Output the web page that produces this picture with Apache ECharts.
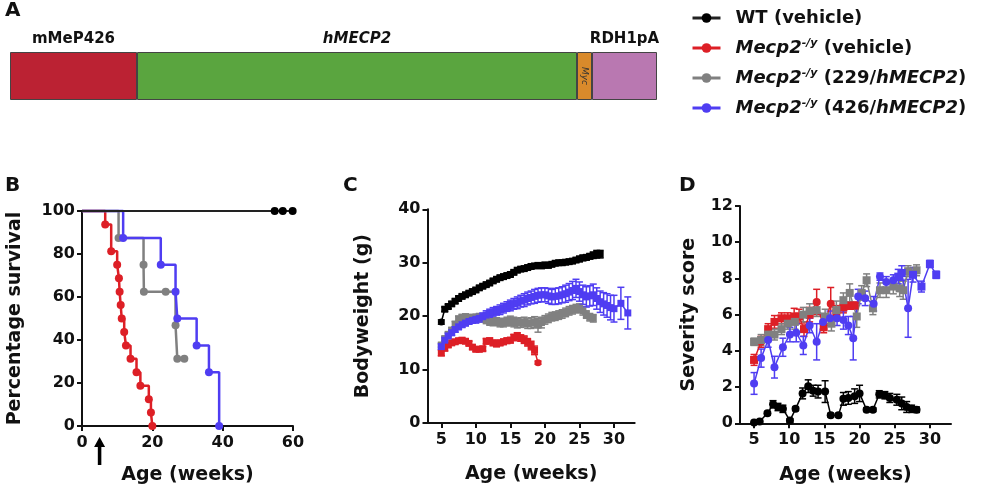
<!DOCTYPE html>
<html><head><meta charset="utf-8">
<script src="https://cdn.jsdelivr.net/npm/echarts@6/dist/echarts.min.js"></script>
<style>html,body{margin:0;padding:0;background:#fff}#c{width:986px;height:496px}</style>
</head><body><div id="c"></div>
<script>
// ---------- Panel A: construct schematic ----------
const constructParts = ['mMeP426', 'hMECP2', 'Myc', 'RDH1pA'];
const constructLengths = [127, 440, 15, 65];

// ---------- Legend names ----------
const groupNames = ['WT (vehicle)', 'Mecp2-/y (vehicle)', 'Mecp2-/y (229/hMECP2)', 'Mecp2-/y (426/hMECP2)'];

// ---------- Panel B: survival ----------
const bTicksX = [0, 20, 40, 60];
const arrowWeek = 5;
const survWT_t = [0, 54.8, 57.1, 59.9];
const survWT_v = [100, 100, 100, 100];
const survRed_t = [0, 6.6, 8.3, 10.0, 10.5, 10.7, 11.0, 11.3, 12.0, 12.5, 13.8, 15.5, 16.6, 19.0, 19.6, 20.0];
const survRed_v = [100, 93.75, 81.25, 75, 68.75, 62.5, 56.25, 50, 43.75, 37.5, 31.25, 25, 18.75, 12.5, 6.25, 0];
const survGray_t = [0, 10.4, 17.5, 17.6, 23.8, 26.6, 27.1, 29.1];
const survGray_v = [100, 87.5, 75, 62.5, 62.5, 46.875, 31.25, 31.25];
const survBlue_t = [0, 11.7, 22.4, 26.6, 27.1, 32.6, 36.1, 39.0];
const survBlue_v = [100, 87.5, 75, 62.5, 50, 37.5, 25, 0];

// ---------- Panel C: bodyweight ----------
const cTicksX = [5, 10, 15, 20, 25, 30];
const cAgeBlack = [5,5.5,6,6.5,7,7.5,8,8.5,9,9.5,10,10.5,11,11.5,12,12.5,13,13.5,14,14.5,15,15.5,16,16.5,17,17.5,18,18.5,19,19.5,20,20.5,21,21.5,22,22.5,23,23.5,24,24.5,25,25.5,26,26.5,27,27.5,28];
const cBlack = [18.9,21.3,21.8,22.3,22.8,23.3,23.7,24.0,24.3,24.6,24.9,25.3,25.6,25.9,26.2,26.6,26.9,27.2,27.4,27.6,27.8,28.2,28.6,28.8,28.9,29.1,29.3,29.4,29.5,29.4,29.6,29.5,29.7,29.9,30.0,30.0,30.1,30.2,30.3,30.5,30.7,30.9,31.0,31.2,31.4,31.6,31.6];
const cBlackErr = [0.4,0.4,0.4,0.4,0.4,0.4,0.4,0.4,0.4,0.4,0.4,0.4,0.4,0.4,0.4,0.4,0.4,0.4,0.4,0.4,0.4,0.4,0.4,0.4,0.4,0.4,0.4,0.4,0.4,0.4,0.4,0.4,0.4,0.4,0.4,0.4,0.4,0.4,0.4,0.4,0.5,0.5,0.5,0.5,0.6,0.7,0.7];
const cAgeRed = [5,5.5,6,6.5,7,7.5,8,8.5,9,9.5,10,10.5,11,11.5,12,12.5,13,13.5,14,14.5,15,15.5,16,16.5,17,17.5,18,18.5,19];
const cRed = [13.1,14.0,14.6,15.0,15.2,15.4,15.5,15.3,14.9,14.2,13.8,13.8,13.9,15.3,15.4,15.0,14.8,15.0,15.2,15.4,15.5,16.0,16.3,15.9,15.6,15.1,14.5,13.6,11.3];
const cRedErr = [0.5,0.5,0.4,0.4,0.4,0.4,0.4,0.4,0.4,0.4,0.4,0.4,0.4,0.5,0.5,0.5,0.5,0.5,0.5,0.5,0.5,0.6,0.6,0.6,0.7,0.7,0.8,0.8,0.3];
const cAgeGray = [5,5.5,6,6.5,7,7.5,8,8.5,9,9.5,10,10.5,11,11.5,12,12.5,13,13.5,14,14.5,15,15.5,16,16.5,17,17.5,18,18.5,19,19.5,20,20.5,21,21.5,22,22.5,23,23.5,24,24.5,25,25.5,26,26.5,27];
const cGray = [14.6,15.8,16.6,17.4,18.5,19.5,19.8,19.9,19.8,19.7,19.7,19.8,19.6,19.3,19.0,18.9,19.0,18.7,18.8,19.0,19.1,18.9,18.7,18.8,18.9,18.6,18.7,18.9,18.3,18.8,19.3,19.6,19.9,20.0,20.2,20.4,20.7,21.0,21.2,21.4,21.5,21.0,20.3,19.8,19.6];
const cGrayErr = [0.4,0.4,0.4,0.4,0.5,0.5,0.5,0.5,0.5,0.5,0.7,0.7,0.7,0.7,0.7,0.7,0.7,0.7,0.8,0.8,0.9,0.9,0.9,0.9,0.9,0.9,1.0,1.0,1.3,1.0,0.8,0.8,0.8,0.8,0.8,0.8,0.8,0.8,0.8,0.8,0.8,0.8,0.7,0.7,0.7];
const cAgeBlue = [5,5.5,6,6.5,7,7.5,8,8.5,9,9.5,10,10.5,11,11.5,12,12.5,13,13.5,14,14.5,15,15.5,16,16.5,17,17.5,18,18.5,19,19.5,20,20.5,21,21.5,22,22.5,23,23.5,24,24.5,25,25.5,26,26.5,27,27.5,28,28.5,29,29.5,30,31,32];
const cBlue = [14.3,15.5,16.3,16.9,17.5,18.0,18.4,18.7,19.0,19.2,19.4,19.6,19.9,20.2,20.5,20.8,21.0,21.2,21.5,21.8,22.0,22.3,22.5,22.8,23.0,23.3,23.5,23.7,23.9,24.0,24.0,23.8,23.6,23.7,23.8,24.0,24.2,24.5,24.8,25.2,24.6,24.0,23.6,23.8,24.0,23.3,22.7,22.3,22.0,21.6,21.4,22.4,20.6];
const cBlueErr = [0.5,0.5,0.5,0.5,0.5,0.5,0.5,0.5,0.5,0.5,0.7,0.7,0.7,0.8,0.8,0.8,0.8,0.9,0.9,0.9,1.0,1.0,1.1,1.1,1.2,1.2,1.2,1.3,1.3,1.3,1.3,1.4,1.4,1.5,1.5,1.5,1.6,1.6,1.7,1.7,1.8,1.8,1.9,1.9,2.0,2.0,2.0,2.1,2.2,2.3,2.5,3.0,3.0];

// ---------- Panel D: severity score ----------
const dTicksX = [5, 10, 15, 20, 25, 30];
const dAgeBlack = [5,5.8,6.9,7.7,8.4,9.1,10.1,10.9,11.9,12.7,13.4,14.1,15.1,15.9,17.0,17.7,18.4,19.3,20.0,21.0,21.9,22.8,23.6,24.3,25.3,26.0,26.7,27.4,28.1];
const dBlack = [0.05,0.1,0.55,1.05,0.9,0.8,0.15,0.8,1.65,2.05,1.8,1.75,1.75,0.45,0.45,1.35,1.4,1.5,1.65,0.75,0.75,1.6,1.55,1.4,1.3,1.1,0.9,0.8,0.75];
const dBlackErr = [0,0,0.1,0.2,0.2,0.2,0.1,0.1,0.3,0.35,0.3,0.35,0.6,0.1,0.1,0.35,0.35,0.4,0.45,0.1,0.1,0.2,0.2,0.25,0.3,0.35,0.3,0.2,0.15];
const dAgeRed = [5,6,7,7.9,8.9,9.8,10.7,11.4,12.1,12.9,13.9,14.9,15.9,16.7,17.7,18.6,19.3];
const dRed = [3.5,4.5,5.2,5.6,5.8,5.8,5.9,5.9,5.2,6.0,6.7,5.3,6.6,6.1,6.4,6.5,6.5];
const dRedErr = [0.3,0.3,0.3,0.35,0.3,0.3,0.45,0.4,0.4,0.4,0.7,0.3,0.9,0.4,0.3,0.2,0.2];
const dAgeGray = [5,6,7,7.9,8.9,9.8,10.8,12.0,12.9,13.9,15.1,16.0,16.7,17.7,18.6,19.6,20.3,21.0,21.9,22.9,23.8,24.8,25.7,26.2,26.9,28.1];
const dGray = [4.5,4.6,4.9,4.9,5.2,5.5,5.6,6.0,6.2,6.25,5.9,5.5,6.25,6.8,7.2,5.9,7.2,7.9,6.35,7.35,7.35,7.55,7.45,7.35,8.4,8.45];
const dGrayErr = [0.2,0.3,0.3,0.3,0.3,0.3,0.4,0.4,0.4,0.35,0.4,0.4,0.5,0.4,0.5,0.6,0.4,0.35,0.35,0.4,0.4,0.4,0.45,0.5,0.3,0.3];
const dAgeBlue = [5,6,7,7.9,9.1,10.1,11.0,12.0,12.9,13.9,14.8,15.8,16.8,17.7,18.4,19.1,19.8,20.8,22.0,22.9,23.8,24.8,25.5,26.0,26.9,27.6,28.8,30.0,30.9];
const dBlue = [2.2,3.6,4.6,3.1,4.2,4.9,5.0,4.3,5.4,4.5,5.6,5.8,5.8,5.7,5.4,4.7,7.0,6.9,6.6,8.1,7.8,7.9,8.1,8.3,6.35,8.2,7.55,8.8,8.2];
const dBlueErr = [0.6,0.5,0.4,0.6,0.5,0.4,0.5,0.5,0.4,1.0,0.4,0.4,0.4,0.5,0.5,1.2,0.4,0.4,0.4,0.2,0.3,0.3,0.4,0.4,1.6,0.4,0.3,0.2,0.2];

// ---------- styling ----------
const FONT = 'DejaVu Sans';
const INK = '#111';
const COLORS = ['#000000', '#dd1f26', '#808080', '#4f3df2'];
const partColors = ['#bb2233', '#5aa53f', '#d98a2b', '#b978b1'];

const chart = echarts.init(document.getElementById('c'), null, {renderer: 'canvas'});

function zip(xs, ys, es) { return xs.map((x, i) => es ? [x, ys[i], es[i]] : [x, ys[i]]); }

function makeAxis(extra) {
  const base = {
    type: 'value',
    nameLocation: 'middle',
    axisLine: {show: true, onZero: false, lineStyle: {color: INK, width: 2}},
    axisTick: {show: true, length: 5, lineStyle: {color: INK, width: 2}},
    axisLabel: {color: INK, fontFamily: FONT, fontWeight: 'bold', fontSize: 16, margin: 7},
    splitLine: {show: false},
    nameTextStyle: {color: INK, fontFamily: FONT, fontWeight: 'bold', fontSize: 19}
  };
  const out = Object.assign({}, base, extra);
  ['axisTick', 'axisLabel'].forEach(k => { if (extra[k]) out[k] = Object.assign({}, base[k], extra[k]); });
  return out;
}

function errItem(params, api) {
  const x = api.value(0), y = api.value(1), e = api.value(2);
  if (!e) return null;
  const p1 = api.coord([x, y + e]), p2 = api.coord([x, y - e]);
  const w = 3.5;
  const st = {stroke: api.visual('color'), lineWidth: 1.5};
  return {type: 'group', children: [
    {type: 'line', shape: {x1: p1[0], y1: p1[1], x2: p2[0], y2: p2[1]}, style: st},
    {type: 'line', shape: {x1: p1[0] - w, y1: p1[1], x2: p1[0] + w, y2: p1[1]}, style: st},
    {type: 'line', shape: {x1: p2[0] - w, y1: p2[1], x2: p2[0] + w, y2: p2[1]}, style: st}
  ]};
}

const series = [];

// Panel B survival curves (step functions)
function survSeries(gi, ts, vs, extra) {
  const data = zip(ts, vs).map((d, i) => i === 0 ? {value: d, symbol: 'none'} : d);
  return Object.assign({
    type: 'line', name: groupNames[gi], xAxisIndex: 0, yAxisIndex: 0,
    step: 'end', data: data, symbol: 'circle', symbolSize: 8, clip: false,
    itemStyle: {color: COLORS[gi]}, lineStyle: {color: COLORS[gi], width: 2.5},
    emphasis: {disabled: true}, animation: false, z: 3
  }, extra || {});
}
series.push(survSeries(0, survWT_t, survWT_v, {z: 6, lineStyle: {color: '#222', width: 2}}));
series.push(survSeries(1, survRed_t, survRed_v, {
  markPoint: {
    silent: true, animation: false,
    data: [{coord: [arrowWeek, 0], symbol: 'path://M5,0 L10,10 L6.6,10 L6.6,28 L3.4,28 L3.4,10 L0,10 Z',
      symbolSize: [11, 28], symbolOffset: [0, 25], itemStyle: {color: '#000'}, label: {show: false}}]
  }
}));
series.push(survSeries(2, survGray_t, survGray_v));
series.push(survSeries(3, survBlue_t, survBlue_v, {z: 4}));

// Panels C & D
function groupSeries(gi, axisIdx, xs, ys, es, sym, size, special) {
  const data = zip(xs, ys).map((d, i) => (special && special[i]) ? {value: d, symbol: special[i]} : d);
  series.push({
    type: 'custom', name: groupNames[gi], xAxisIndex: axisIdx, yAxisIndex: axisIdx,
    renderItem: errItem, data: zip(xs, ys, es), encode: {x: 0, y: 1},
    itemStyle: {color: COLORS[gi]}, clip: false, silent: true, animation: false, z: 2
  });
  series.push({
    type: 'line', name: groupNames[gi], xAxisIndex: axisIdx, yAxisIndex: axisIdx,
    data: data, symbol: sym, symbolSize: size, clip: false,
    itemStyle: {color: COLORS[gi]}, lineStyle: {color: COLORS[gi], width: 1.5},
    emphasis: {disabled: true}, animation: false, z: 3
  });
}
groupSeries(0, 1, cAgeBlack, cBlack, cBlackErr, 'rect', 7, {0: 'circle'});
groupSeries(1, 1, cAgeRed, cRed, cRedErr, 'rect', 7, {28: 'circle'});
groupSeries(2, 1, cAgeGray, cGray, cGrayErr, 'rect', 7);
groupSeries(3, 1, cAgeBlue, cBlue, cBlueErr, 'rect', 7);

groupSeries(0, 2, dAgeBlack, dBlack, dBlackErr, 'circle', 8);
groupSeries(1, 2, dAgeRed, dRed, dRedErr, 'rect', 8, {1: 'circle', 10: 'circle', 12: 'circle'});
groupSeries(2, 2, dAgeGray, dGray, dGrayErr, 'rect', 8);
groupSeries(3, 2, dAgeBlue, dBlue, dBlueErr, 'circle', 8, {22: 'rect', 23: 'rect', 25: 'rect', 26: 'rect', 27: 'rect', 28: 'rect'});

// Panel A construct as stacked horizontal bar
constructParts.forEach((p, i) => {
  const isMyc = p === 'Myc';
  series.push({
    type: 'bar', name: p, xAxisIndex: 3, yAxisIndex: 3, stack: 'construct',
    data: [constructLengths[i]], barWidth: '100%', silent: true, animation: false,
    itemStyle: {color: partColors[i], borderColor: '#444', borderWidth: 1},
    label: isMyc ? {
      show: true, position: 'inside', rotate: -90, formatter: p,
      fontFamily: FONT, fontStyle: 'italic', fontSize: 9, color: '#333'
    } : {
      show: true, position: 'top', distance: 5, formatter: p,
      fontFamily: FONT, fontWeight: 'bold', fontSize: 15, color: INK,
      fontStyle: p === 'hMECP2' ? 'italic' : 'normal'
    }
  });
});

const legendRich = {
  g: {width: 10},
  n: {fontFamily: FONT, fontWeight: 'bold', fontSize: 18, lineHeight: 20, color: INK},
  i: {fontFamily: FONT, fontWeight: 'bold', fontStyle: 'italic', fontSize: 18, lineHeight: 20, color: INK},
  s: {fontFamily: FONT, fontWeight: 'bold', fontStyle: 'italic', fontSize: 11, lineHeight: 12, verticalAlign: 'top', color: INK}
};
function legendFormat(name) {
  if (name === groupNames[0]) return '{g| }{n|' + name + '}';
  const inner = name.slice(name.indexOf('(') + 1, name.lastIndexOf(')'));
  let tail;
  if (inner.indexOf('/') >= 0) {
    const parts = inner.split('/');
    tail = '{n| (' + parts[0] + '/}{i|' + parts[1] + '}{n|)}';
  } else {
    tail = '{n| (' + inner + ')}';
  }
  return '{g| }{i|Mecp2}{s|-/y}' + tail;
}

const labelText = (t, x, y) => ({
  type: 'text', left: x, top: y, silent: true,
  style: {text: t, fontFamily: FONT, fontWeight: 'bold', fontSize: 20, fill: INK}
});

const option = {
  animation: false,
  backgroundColor: '#ffffff',
  textStyle: {fontFamily: FONT},
  legend: {
    data: groupNames, orient: 'vertical', left: 686, top: 4,
    itemWidth: 28, itemHeight: 12, itemGap: 11,
    formatter: legendFormat, textStyle: {rich: legendRich},
    lineStyle: {width: 3}, selectedMode: false
  },
  grid: [
    {left: 82, top: 211, width: 211, height: 215, containLabel: false, outerBoundsMode: 'none'},
    {left: 427.5, top: 209.3, width: 207.2, height: 213.7, containLabel: false, outerBoundsMode: 'none'},
    {left: 740, top: 206, width: 211, height: 217.3, containLabel: false, outerBoundsMode: 'none'},
    {left: 10, top: 52, width: 647, height: 48, containLabel: false, outerBoundsMode: 'none'}
  ],
  xAxis: [
    makeAxis({gridIndex: 0, min: 0, max: 60, interval: 20, name: 'Age (weeks)', nameGap: 40,
      axisLabel: {margin: 9}}),
    makeAxis({gridIndex: 1, min: 3, max: 33, name: 'Age (weeks)', nameGap: 42,
      axisTick: {customValues: cTicksX}, axisLabel: {customValues: cTicksX, margin: 9}}),
    makeAxis({gridIndex: 2, min: 3, max: 33, name: 'Age (weeks)', nameGap: 42,
      axisTick: {customValues: dTicksX}, axisLabel: {customValues: dTicksX, margin: 9}}),
    {type: 'value', gridIndex: 3, min: 0, max: constructLengths.reduce((a, b) => a + b, 0), show: false}
  ],
  yAxis: [
    makeAxis({gridIndex: 0, min: 0, max: 100, interval: 20, name: 'Percentage survival', nameGap: 57}),
    makeAxis({gridIndex: 1, min: 0, max: 40, interval: 10, name: 'Bodyweight (g)', nameGap: 55}),
    makeAxis({gridIndex: 2, min: 0, max: 12, interval: 2, name: 'Severity score', nameGap: 41}),
    {type: 'category', gridIndex: 3, data: ['construct'], show: false}
  ],
  graphic: [
    labelText('A', 5, 1),
    labelText('B', 5, 176),
    labelText('C', 343, 176),
    labelText('D', 679, 176)
  ],
  series: series
};
chart.setOption(option);
</script></body></html>
